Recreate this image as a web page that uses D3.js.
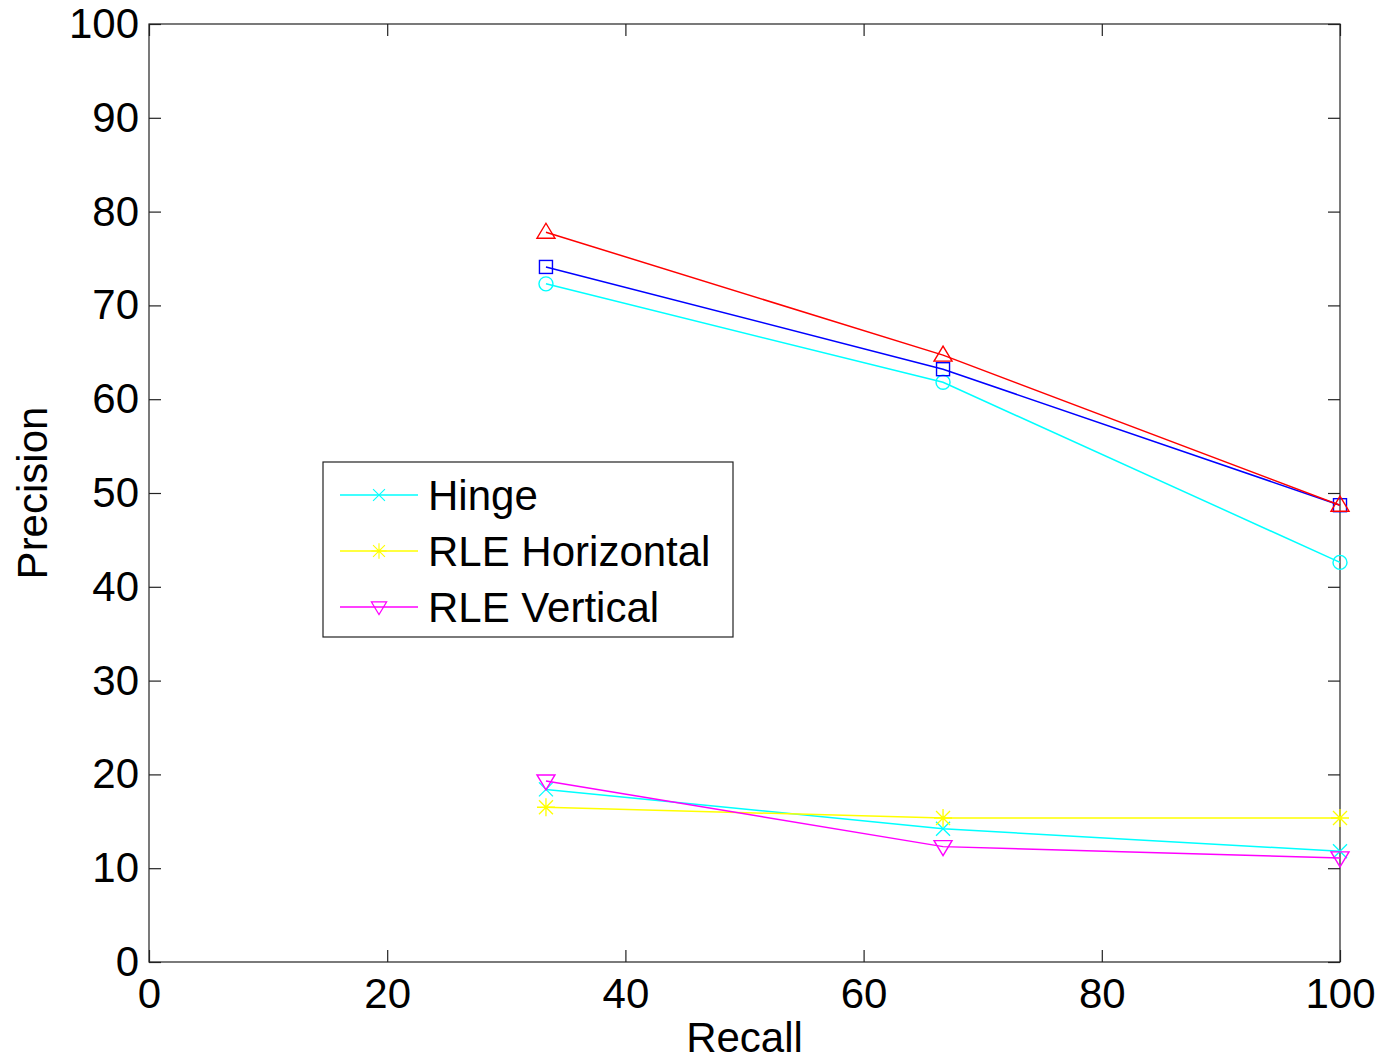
<!DOCTYPE html>
<html>
<head>
<meta charset="utf-8">
<script src="https://cdn.jsdelivr.net/npm/d3@7"></script>
<style>
  body { margin: 0; background: #fff; }
  svg text { font-family: "Liberation Sans", Arial, sans-serif; fill: #000; }
</style>
</head>
<body>
<div id="chart"></div>
<script>
// Recall levels shared by all series
const recall = [33.33, 66.67, 100];

// Precision values per series
const hinge = [18.4, 14.2, 11.8];
const rleHorizontal = [16.5, 15.35, 15.35];
const rleVertical = [19.3, 12.3, 11.1];
const seriesCircle = [72.3, 61.8, 42.6];
const seriesSquare = [74.1, 63.2, 48.7];
const seriesTriangle = [77.8, 64.7, 48.7];

const xTicks = [0, 20, 40, 60, 80, 100];
const yTicks = [0, 10, 20, 30, 40, 50, 60, 70, 80, 90, 100];

const series = [
  { name: "Hinge", values: hinge, color: "#00ffff", marker: "x", legend: true },
  { name: "RLE Horizontal", values: rleHorizontal, color: "#ffff00", marker: "star", legend: true },
  { name: "RLE Vertical", values: rleVertical, color: "#ff00ff", marker: "triDown", legend: true },
  { name: "circle", values: seriesCircle, color: "#00ffff", marker: "circle", legend: false },
  { name: "square", values: seriesSquare, color: "#0000ff", marker: "square", legend: false },
  { name: "triangle", values: seriesTriangle, color: "#ff0000", marker: "triUp", legend: false }
];

const W = 1383, H = 1062;
const margin = { top: 24, right: 43, bottom: 100, left: 149 };
const width = W - margin.left - margin.right;
const height = H - margin.top - margin.bottom;

const svg = d3.select("#chart").append("svg")
  .attr("width", W).attr("height", H);

const g = svg.append("g").attr("transform", `translate(${margin.left},${margin.top})`);

const x = d3.scaleLinear().domain([0, 100]).range([0, width]);
const y = d3.scaleLinear().domain([0, 100]).range([height, 0]);

// frame
g.append("rect")
  .attr("x", 0).attr("y", 0).attr("width", width).attr("height", height)
  .attr("fill", "none").attr("stroke", "#222").attr("stroke-width", 1.2);

// ticks inward on all four sides
const tickLen = 12;
g.append("g").attr("transform", `translate(0,${height})`)
  .call(d3.axisBottom(x).tickValues(xTicks).tickSizeInner(-tickLen).tickSizeOuter(0).tickPadding(16))
  .call(a => a.select(".domain").remove());
g.append("g")
  .call(d3.axisTop(x).tickValues(xTicks).tickSizeInner(-tickLen).tickSizeOuter(0).tickFormat(""))
  .call(a => a.select(".domain").remove());
g.append("g")
  .call(d3.axisLeft(y).tickValues(yTicks).tickSizeInner(-tickLen).tickSizeOuter(0).tickPadding(10))
  .call(a => a.select(".domain").remove());
g.append("g").attr("transform", `translate(${width},0)`)
  .call(d3.axisRight(y).tickValues(yTicks).tickSizeInner(-tickLen).tickSizeOuter(0).tickFormat(""))
  .call(a => a.select(".domain").remove());

g.selectAll(".tick line").attr("stroke", "#222").attr("stroke-width", 1.2);
g.selectAll(".tick text").attr("font-size", 42).attr("font-family", "Liberation Sans, Arial, sans-serif");

// axis labels
svg.append("text")
  .attr("x", margin.left + width / 2).attr("y", 1052)
  .attr("text-anchor", "middle").attr("font-size", 42)
  .text("Recall");
svg.append("text")
  .attr("transform", `translate(47,${margin.top + height / 2}) rotate(-90)`)
  .attr("text-anchor", "middle").attr("font-size", 42)
  .text("Precision");

function drawMarker(sel, type, color) {
  const s = 7;
  if (type === "x") {
    sel.append("path").attr("d", `M${-s},${-s}L${s},${s}M${-s},${s}L${s},${-s}`)
      .attr("stroke", color).attr("stroke-width", 1.3).attr("fill", "none");
  } else if (type === "star") {
    sel.append("path").attr("d", `M${-s},${-s}L${s},${s}M${-s},${s}L${s},${-s}M0,${-s - 2}L0,${s + 2}M${-s - 2},0L${s + 2},0`)
      .attr("stroke", color).attr("stroke-width", 1.3).attr("fill", "none");
  } else if (type === "triDown") {
    sel.append("path").attr("d", `M-9,-6L9,-6L0,9Z`)
      .attr("stroke", color).attr("stroke-width", 1.4).attr("fill", "none");
  } else if (type === "triUp") {
    sel.append("path").attr("d", `M-9,6L9,6L0,-9Z`)
      .attr("stroke", color).attr("stroke-width", 1.4).attr("fill", "none");
  } else if (type === "square") {
    sel.append("rect").attr("x", -6.5).attr("y", -6.5).attr("width", 13).attr("height", 13)
      .attr("stroke", color).attr("stroke-width", 1.4).attr("fill", "none");
  } else if (type === "circle") {
    sel.append("circle").attr("r", 7)
      .attr("stroke", color).attr("stroke-width", 1.4).attr("fill", "none");
  }
}

const line = d3.line().x((d, i) => x(recall[i])).y(d => y(d));

series.forEach(s => {
  g.append("path").datum(s.values)
    .attr("d", line).attr("fill", "none")
    .attr("stroke", s.color).attr("stroke-width", 1.5);
  s.values.forEach((v, i) => {
    const m = g.append("g").attr("transform", `translate(${x(recall[i])},${y(v)})`);
    drawMarker(m, s.marker, s.color);
  });
});

// legend
const legend = svg.append("g").attr("transform", "translate(323,462)");
legend.append("rect").attr("x", 0).attr("y", 0).attr("width", 410).attr("height", 175)
  .attr("fill", "#fff").attr("stroke", "#222").attr("stroke-width", 1.2);
series.filter(s => s.legend).forEach((s, i) => {
  const cy = 33 + i * 56;
  legend.append("line").attr("x1", 17).attr("x2", 95).attr("y1", cy).attr("y2", cy)
    .attr("stroke", s.color).attr("stroke-width", 1.5);
  const m = legend.append("g").attr("transform", `translate(56,${cy}) scale(0.85)`);
  drawMarker(m, s.marker, s.color);
  legend.append("text").attr("x", 105).attr("y", cy + 15).attr("font-size", 42).text(s.name);
});
</script>
</body>
</html>
